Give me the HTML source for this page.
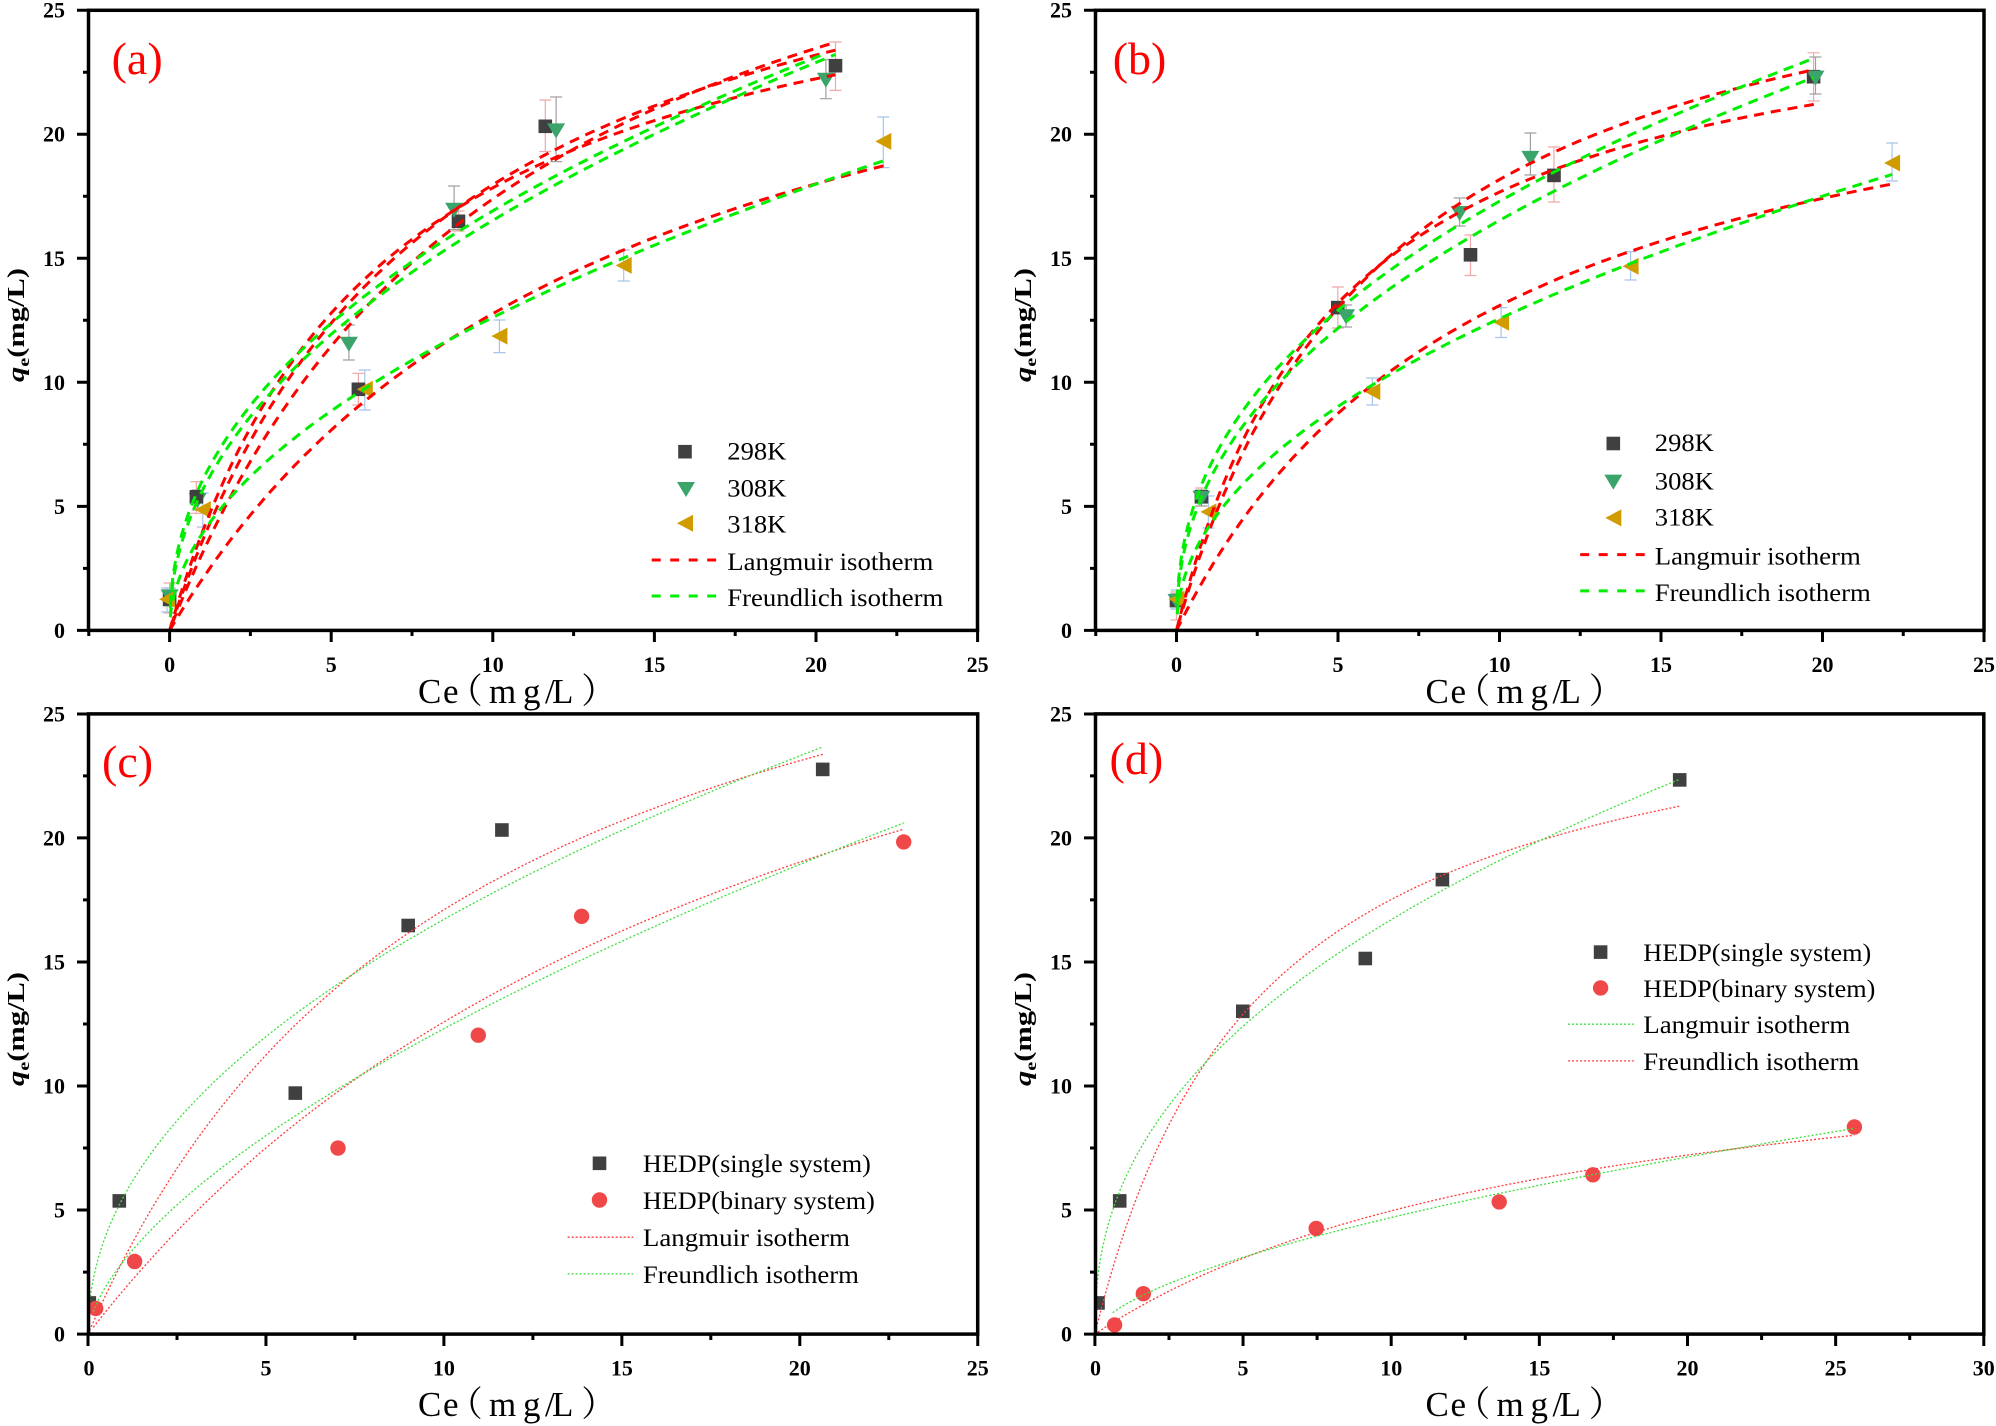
<!DOCTYPE html>
<html><head><meta charset="utf-8"><style>
html,body{margin:0;padding:0;background:#fff;}
svg{display:block;}
.tk{font-family:"Liberation Serif",serif;font-weight:bold;font-size:22px;fill:#000;}
.lg{font-family:"Liberation Serif",serif;font-size:25px;fill:#000;}
.pl{font-family:"Liberation Serif",serif;font-size:46px;fill:#ff0000;}
.xl{font-family:"Liberation Serif","Noto Serif CJK SC",serif;font-size:35px;fill:#000;}
.yl{font-family:"Liberation Serif",serif;font-weight:bold;font-size:24px;fill:#000;}
.rd{fill:none;stroke:#ff0000;stroke-width:3;stroke-dasharray:10 7;}
.gd{fill:none;stroke:#00ee00;stroke-width:3;stroke-dasharray:10 7;}
.ro{fill:none;stroke:#ff3b3b;stroke-width:1.3;stroke-dasharray:2 2;}
.go{fill:none;stroke:#3be03b;stroke-width:1.3;stroke-dasharray:2 2;}
.fr{fill:none;stroke:#000;stroke-width:3.5;}
.tc{fill:none;stroke:#000;stroke-width:3;}
.e1{fill:none;stroke:#f0a8a8;stroke-width:1.2;}
.e2{fill:none;stroke:#a0a0a0;stroke-width:1.2;}
.e3{fill:none;stroke:#a8c4ec;stroke-width:1.2;}
</style></head><body>
<svg width="1996" height="1426" viewBox="0 0 1996 1426">
<defs>
<clipPath id="ca"><rect x="88.5" y="10.3" width="889" height="620.1"/></clipPath>
<clipPath id="cb"><rect x="1095.5" y="10.3" width="888.5" height="620.1"/></clipPath>
<clipPath id="cc"><rect x="88.5" y="713.9" width="889.2" height="620.2"/></clipPath>
<clipPath id="cd"><rect x="1095.5" y="713.9" width="888.3" height="620.2"/></clipPath>
<path id="sq" d="M-6.8 -6.8h13.6v13.6h-13.6z" fill="#404040"/>
<path id="td" d="M-9 -7.5h18l-9 15z" fill="#3ba46b"/>
<path id="tl" d="M-8 0l16 -8.5v17z" fill="#d09c00"/>
<circle id="ci" r="7.7" fill="#f04848"/>
</defs>
<rect width="1996" height="1426" fill="#fff"/>

<!-- ===== Panel (a) ===== -->
<path class="e1" d="M169.6 583V613M163.6 583h12M163.6 613h12 M196.4 481.7V513.3M190.4 481.7h12M190.4 513.3h12 M358.4 373.3V405M352.4 373.3h12M352.4 405h12 M458.5 211V231M452.5 211h12M452.5 231h12 M545.3 100V151.5M539.3 100h12M539.3 151.5h12 M835.5 42V90.4M829.5 42h12M829.5 90.4h12"/>
<path class="e2" d="M169.6 588V606M163.6 588h12M163.6 606h12 M197.7 490V510M191.7 490h12M191.7 510h12 M348.9 325V360M342.9 325h12M342.9 360h12 M454.1 186V229.6M448.1 186h12M448.1 229.6h12 M556.1 97V161.6M550.1 97h12M550.1 161.6h12 M825.9 59.7V98.7M819.9 59.7h12M819.9 98.7h12"/>
<path class="e3" d="M167.1 588V612M161.1 588h12M161.1 612h12 M202.8 493V527M196.8 493h12M196.8 527h12 M364.8 370V410M358.8 370h12M358.8 410h12 M499.4 320V352.6M493.4 320h12M493.4 352.6h12 M623.7 250V281M617.7 250h12M617.7 281h12 M883.3 117V167.6M877.3 117h12M877.3 167.6h12"/>
<use href="#td" x="197.7" y="500.5"/>
<use href="#sq" x="169.6" y="599.2"/><use href="#sq" x="196.4" y="496.8"/><use href="#sq" x="358.4" y="389.3"/><use href="#sq" x="458.5" y="221.3"/><use href="#sq" x="545.3" y="126.3"/><use href="#sq" x="835.5" y="65.7"/>
<use href="#td" x="169.6" y="596.9"/><use href="#td" x="348.9" y="344.3"/><use href="#td" x="454.1" y="210.3"/><use href="#td" x="556.1" y="130.9"/><use href="#td" x="825.9" y="80.3"/>
<use href="#tl" x="167.1" y="599.2"/><use href="#tl" x="202.8" y="509.6"/><use href="#tl" x="364.8" y="389.3"/><use href="#tl" x="499.4" y="336.1"/><use href="#tl" x="623.7" y="265.4"/><use href="#tl" x="883.3" y="141.4"/>
<g clip-path="url(#ca)">
<path id="k0" class="rd"/><path id="k1" class="rd"/><path id="k2" class="rd"/><path id="k3" class="gd"/><path id="k4" class="gd"/><path id="k5" class="rd"/><path id="k6" class="gd"/>
</g>
<rect class="fr" x="88.5" y="10.3" width="889" height="620.1"/>
<path class="tc" d="M169.6 630v12M331.2 630v12M492.8 630v12M654.4 630v12M816 630v12M977.6 630v12M88.8 630v6M250.4 630v6M412 630v6M573.6 630v6M735.2 630v6M896.8 630v6M89 630.4h-12M89 506.35h-12M89 382.3h-12M89 258.25h-12M89 134.2h-12M89 10.3h-12M89 568.4h-6M89 444.3h-6M89 320.3h-6M89 196.2h-6M89 72.2h-6"/>
<g class="tk" text-anchor="end">
<text x="65" y="637.9">0</text><text x="65" y="513.9">5</text><text x="65" y="389.8">10</text><text x="65" y="265.8">15</text><text x="65" y="141.7">20</text><text x="65" y="17.7">25</text>
</g>
<g class="tk" text-anchor="middle">
<text x="169.6" y="672">0</text><text x="331.2" y="672">5</text><text x="492.8" y="672">10</text><text x="654.4" y="672">15</text><text x="816" y="672">20</text><text x="977.6" y="672">25</text>
</g>
<text class="yl" transform="translate(24,325) rotate(-90)" text-anchor="middle" textLength="114" lengthAdjust="spacingAndGlyphs"><tspan font-style="italic">q</tspan><tspan font-size="16" dy="5">e</tspan><tspan dy="-5">(mg/L)</tspan></text>
<g class="xl">
<text x="418" y="703">C</text><text x="443" y="703">e</text><text x="447.8" y="703">（</text><text x="489" y="703">m</text><text x="523" y="703">g</text><text x="545" y="703">/</text><text x="552" y="703">L</text><text x="581.2" y="703">）</text>
</g>
<text class="pl" x="111.6" y="74">(a)</text>
<use href="#sq" x="685" y="451.7"/><use href="#td" x="686" y="489.5"/><use href="#tl" x="685" y="523.3"/>
<path d="M651.7 560H718.3" fill="none" stroke="#ff0000" stroke-width="3" stroke-dasharray="9 9.5"/>
<path d="M651.7 596H718.3" fill="none" stroke="#00ee00" stroke-width="3" stroke-dasharray="9 9.5"/>
<g class="lg" lengthAdjust="spacingAndGlyphs">
<text x="727.3" y="459.3" textLength="59" lengthAdjust="spacingAndGlyphs">298K</text><text x="727.3" y="496.7" textLength="59" lengthAdjust="spacingAndGlyphs">308K</text><text x="727.3" y="532.7" textLength="59" lengthAdjust="spacingAndGlyphs">318K</text><text x="727.3" y="570" textLength="206" lengthAdjust="spacingAndGlyphs">Langmuir isotherm</text><text x="727.3" y="606" textLength="216" lengthAdjust="spacingAndGlyphs">Freundlich isotherm</text>
</g>

<!-- ===== Panel (b) ===== -->
<path class="e1" d="M1176.5 592V620M1170.5 592h12M1170.5 620h12 M1201.4 488V506M1195.4 488h12M1195.4 506h12 M1337.8 287V328M1331.8 287h12M1331.8 328h12 M1470.5 235V275.5M1464.5 235h12M1464.5 275.5h12 M1554 147V202M1548 147h12M1548 202h12 M1813.6 52.8V101M1807.6 52.8h12M1807.6 101h12"/>
<path class="e2" d="M1176.5 594V609M1170.5 594h12M1170.5 609h12 M1201.4 490V506M1195.4 490h12M1195.4 506h12 M1346.1 305V327M1340.1 305h12M1340.1 327h12 M1459.6 198V226M1453.6 198h12M1453.6 226h12 M1530.4 133V175M1524.4 133h12M1524.4 175h12 M1815.5 57V94M1809.5 57h12M1809.5 94h12"/>
<path class="e3" d="M1176.5 590V609M1170.5 590h12M1170.5 609h12 M1208.4 496V528M1202.4 496h12M1202.4 528h12 M1372.3 378V405M1366.3 378h12M1366.3 405h12 M1501.1 307.6V337.5M1495.1 307.6h12M1495.1 337.5h12 M1630.6 251.6V280M1624.6 251.6h12M1624.6 280h12 M1892.1 143V181M1886.1 143h12M1886.1 181h12"/>
<use href="#sq" x="1176.5" y="600.6"/><use href="#sq" x="1201.4" y="496.8"/><use href="#sq" x="1337.8" y="307.6"/><use href="#sq" x="1470.5" y="254.8"/><use href="#sq" x="1554" y="175.4"/><use href="#sq" x="1813.6" y="76.7"/>
<use href="#td" x="1176.5" y="601.5"/><use href="#td" x="1201.4" y="498.2"/><use href="#td" x="1346.1" y="316.8"/><use href="#td" x="1459.6" y="213.5"/><use href="#td" x="1530.4" y="158.4"/><use href="#td" x="1815.5" y="78.1"/>
<use href="#tl" x="1176.5" y="599.2"/><use href="#tl" x="1208.4" y="511.9"/><use href="#tl" x="1372.3" y="391.6"/><use href="#tl" x="1501.1" y="322.3"/><use href="#tl" x="1630.6" y="266.3"/><use href="#tl" x="1892.1" y="163"/>
<g clip-path="url(#cb)">
<path id="k7" class="rd"/><path id="k8" class="rd"/><path id="k9" class="gd"/><path id="k10" class="gd"/><path id="k11" class="rd"/><path id="k12" class="gd"/>
</g>
<rect class="fr" x="1095.5" y="10.3" width="888.5" height="620.1"/>
<path class="tc" d="M1176.5 630v12M1338 630v12M1499.5 630v12M1661 630v12M1822.5 630v12M1984 630v12M1095.75 630v6M1257.25 630v6M1418.75 630v6M1580.25 630v6M1741.75 630v6M1903.25 630v6M1096 630.4h-12M1096 506.35h-12M1096 382.3h-12M1096 258.25h-12M1096 134.2h-12M1096 10.3h-12M1096 568.4h-6M1096 444.3h-6M1096 320.3h-6M1096 196.2h-6M1096 72.2h-6"/>
<g class="tk" text-anchor="end">
<text x="1072" y="637.9">0</text><text x="1072" y="513.9">5</text><text x="1072" y="389.8">10</text><text x="1072" y="265.8">15</text><text x="1072" y="141.7">20</text><text x="1072" y="17.7">25</text>
</g>
<g class="tk" text-anchor="middle">
<text x="1176.5" y="672">0</text><text x="1338" y="672">5</text><text x="1499.5" y="672">10</text><text x="1661" y="672">15</text><text x="1822.5" y="672">20</text><text x="1984" y="672">25</text>
</g>
<text class="yl" transform="translate(1031,325) rotate(-90)" text-anchor="middle" textLength="114" lengthAdjust="spacingAndGlyphs"><tspan font-style="italic">q</tspan><tspan font-size="16" dy="5">e</tspan><tspan dy="-5">(mg/L)</tspan></text>
<g class="xl" transform="translate(1007.5,0)">
<text x="418" y="703">C</text><text x="443" y="703">e</text><text x="447.8" y="703">（</text><text x="489" y="703">m</text><text x="523" y="703">g</text><text x="545" y="703">/</text><text x="552" y="703">L</text><text x="581.2" y="703">）</text>
</g>
<text class="pl" x="1112.7" y="74">(b)</text>
<use href="#sq" x="1613.3" y="443.5"/><use href="#td" x="1613.3" y="482.1"/><use href="#tl" x="1613.3" y="517.9"/>
<path d="M1580.2 554.6H1646.5" fill="none" stroke="#ff0000" stroke-width="3" stroke-dasharray="9 9.5"/>
<path d="M1580.2 590.9H1646.5" fill="none" stroke="#00ee00" stroke-width="3" stroke-dasharray="9 9.5"/>
<g class="lg">
<text x="1654.8" y="451" textLength="59" lengthAdjust="spacingAndGlyphs">298K</text><text x="1654.8" y="489.5" textLength="59" lengthAdjust="spacingAndGlyphs">308K</text><text x="1654.8" y="525.5" textLength="59" lengthAdjust="spacingAndGlyphs">318K</text><text x="1654.8" y="564.6" textLength="206" lengthAdjust="spacingAndGlyphs">Langmuir isotherm</text><text x="1654.8" y="601" textLength="216" lengthAdjust="spacingAndGlyphs">Freundlich isotherm</text>
</g>

<!-- ===== Panel (c) ===== -->
<g clip-path="url(#cc)">
<use href="#sq" x="89.3" y="1302.9"/><use href="#sq" x="119.3" y="1200.9"/><use href="#sq" x="295.3" y="1093.1"/><use href="#sq" x="408.2" y="925.5"/><use href="#sq" x="501.9" y="830"/><use href="#sq" x="822.7" y="769.4"/>
<use href="#ci" x="95.7" y="1308.4"/><use href="#ci" x="134.6" y="1261.5"/><use href="#ci" x="338" y="1148.1"/><use href="#ci" x="478.3" y="1035.2"/><use href="#ci" x="581.6" y="916.3"/><use href="#ci" x="903.7" y="841.9"/>
<path id="k13" class="ro"/><path id="k14" class="go"/><path id="k15" class="ro"/><path id="k16" class="go"/>
</g>
<rect class="fr" x="88.5" y="713.9" width="889.2" height="620.2"/>
<path class="tc" d="M88 1334v12M265.95 1334v12M443.9 1334v12M621.85 1334v12M799.8 1334v12M977.75 1334v12M177 1334v6M354.9 1334v6M532.9 1334v6M710.8 1334v6M888.8 1334v6M89 1334.1h-12M89 1210.05h-12M89 1086h-12M89 961.95h-12M89 837.9h-12M89 714h-12M89 1272.1h-6M89 1148h-6M89 1024h-6M89 899.9h-6M89 775.9h-6"/>
<g class="tk" text-anchor="end">
<text x="65" y="1341.6">0</text><text x="65" y="1217.6">5</text><text x="65" y="1093.5">10</text><text x="65" y="969.5">15</text><text x="65" y="845.4">20</text><text x="65" y="721.4">25</text>
</g>
<g class="tk" text-anchor="middle">
<text x="89" y="1375.6">0</text><text x="265.95" y="1375.6">5</text><text x="443.9" y="1375.6">10</text><text x="621.85" y="1375.6">15</text><text x="799.8" y="1375.6">20</text><text x="977.75" y="1375.6">25</text>
</g>
<text class="yl" transform="translate(24,1029) rotate(-90)" text-anchor="middle" textLength="114" lengthAdjust="spacingAndGlyphs"><tspan font-style="italic">q</tspan><tspan font-size="16" dy="5">e</tspan><tspan dy="-5">(mg/L)</tspan></text>
<g class="xl" transform="translate(0,713)">
<text x="418" y="703">C</text><text x="443" y="703">e</text><text x="447.8" y="703">（</text><text x="489" y="703">m</text><text x="523" y="703">g</text><text x="545" y="703">/</text><text x="552" y="703">L</text><text x="581.2" y="703">）</text>
</g>
<text class="pl" x="102" y="777">(c)</text>
<use href="#sq" x="599.5" y="1163.3"/><use href="#ci" x="599.5" y="1200"/>
<path d="M567.6 1237.2H633.3" fill="none" stroke="#ff3b3b" stroke-width="1.3" stroke-dasharray="2 2"/>
<path d="M567.6 1273.9H633.3" fill="none" stroke="#3be03b" stroke-width="1.3" stroke-dasharray="2 2"/>
<g class="lg">
<text x="642.9" y="1172" textLength="228" lengthAdjust="spacingAndGlyphs">HEDP(single system)</text><text x="642.9" y="1209" textLength="232" lengthAdjust="spacingAndGlyphs">HEDP(binary system)</text><text x="642.9" y="1246" textLength="207" lengthAdjust="spacingAndGlyphs">Langmuir isotherm</text><text x="642.9" y="1283" textLength="216" lengthAdjust="spacingAndGlyphs">Freundlich isotherm</text>
</g>

<!-- ===== Panel (d) ===== -->
<g clip-path="url(#cd)">
<use href="#sq" x="1098" y="1302.9"/><use href="#sq" x="1119.7" y="1200.9"/><use href="#sq" x="1242.8" y="1011.3"/><use href="#sq" x="1365.3" y="958.5"/><use href="#sq" x="1442.4" y="879.6"/><use href="#sq" x="1679.7" y="779.9"/>
<use href="#ci" x="1114.6" y="1324.9"/><use href="#ci" x="1143.3" y="1293.7"/><use href="#ci" x="1316.2" y="1228.5"/><use href="#ci" x="1499.2" y="1201.9"/><use href="#ci" x="1592.9" y="1174.8"/><use href="#ci" x="1854.4" y="1127"/>
<path id="k17" class="ro"/><path id="k18" class="go"/><path id="k19" class="ro"/><path id="k20" class="go"/>
</g>
<rect class="fr" x="1095.5" y="713.9" width="888.3" height="620.2"/>
<path class="tc" d="M1094.9 1334v12M1243.05 1334v12M1391.2 1334v12M1539.35 1334v12M1687.5 1334v12M1835.65 1334v12M1983.8 1334v12M1168.98 1334v6M1317.1 1334v6M1465.3 1334v6M1613.4 1334v6M1761.6 1334v6M1909.7 1334v6M1096 1334.1h-12M1096 1210.05h-12M1096 1086h-12M1096 961.95h-12M1096 837.9h-12M1096 714h-12M1096 1272.1h-6M1096 1148h-6M1096 1024h-6M1096 899.9h-6M1096 775.9h-6"/>
<g class="tk" text-anchor="end">
<text x="1072" y="1341.6">0</text><text x="1072" y="1217.6">5</text><text x="1072" y="1093.5">10</text><text x="1072" y="969.5">15</text><text x="1072" y="845.4">20</text><text x="1072" y="721.4">25</text>
</g>
<g class="tk" text-anchor="middle">
<text x="1095.5" y="1375.6">0</text><text x="1243.05" y="1375.6">5</text><text x="1391.2" y="1375.6">10</text><text x="1539.35" y="1375.6">15</text><text x="1687.5" y="1375.6">20</text><text x="1835.65" y="1375.6">25</text><text x="1983.8" y="1375.6">30</text>
</g>
<text class="yl" transform="translate(1031,1029) rotate(-90)" text-anchor="middle" textLength="114" lengthAdjust="spacingAndGlyphs"><tspan font-style="italic">q</tspan><tspan font-size="16" dy="5">e</tspan><tspan dy="-5">(mg/L)</tspan></text>
<g class="xl" transform="translate(1007.5,713)">
<text x="418" y="703">C</text><text x="443" y="703">e</text><text x="447.8" y="703">（</text><text x="489" y="703">m</text><text x="523" y="703">g</text><text x="545" y="703">/</text><text x="552" y="703">L</text><text x="581.2" y="703">）</text>
</g>
<text class="pl" x="1109.5" y="774">(d)</text>
<use href="#sq" x="1600.6" y="952.1"/><use href="#ci" x="1600.6" y="987.9"/>
<path d="M1568.1 1024.2H1633.8" fill="none" stroke="#3be03b" stroke-width="1.3" stroke-dasharray="2 2"/>
<path d="M1568.1 1060.9H1633.8" fill="none" stroke="#ff3b3b" stroke-width="1.3" stroke-dasharray="2 2"/>
<g class="lg">
<text x="1643.3" y="961" textLength="228" lengthAdjust="spacingAndGlyphs">HEDP(single system)</text><text x="1643.3" y="997" textLength="232" lengthAdjust="spacingAndGlyphs">HEDP(binary system)</text><text x="1643.3" y="1033" textLength="207" lengthAdjust="spacingAndGlyphs">Langmuir isotherm</text><text x="1643.3" y="1070" textLength="216" lengthAdjust="spacingAndGlyphs">Freundlich isotherm</text>
</g>
</svg>
<script>
(function(){
var P={a:[169.6,32.32,630.4,24.81],b:[1176.5,32.3,630.4,24.81],c:[88,35.59,1334.1,24.81],d:[1094.9,29.63,1334.1,24.81]};
function L(m,k){return function(c){return m*k*c/(1+k*c);};}
function F(k,n){return function(c){return k*Math.pow(c,n);};}
var D=[
['a',L(29.5,0.153),0,20.6],
['a',L(32.7,0.1219),0.05,20.6],
['a',L(36.05,0.0932),0.1,20.6],
['a',F(6.0,0.45),0.02,20.3],
['a',F(5.6,0.47),0.02,20.6],
['a',L(30.5,0.072),0,22.1],
['a',F(3.88,0.512),0.02,22.1],
['b',L(26.69,0.1957),0,19.73],
['b',L(30.15,0.1517),0.05,19.73],
['b',F(6.53,0.423),0.02,19.73],
['b',F(6.0,0.44),0.02,19.73],
['b',L(26.0,0.1014),0,22.16],
['b',F(4.18,0.478),0.02,22.16],
['c',L(35.63,0.0923),0,20.65],
['c',F(5.54,0.4796),0.04,20.65],
['c',L(38.98,0.04766),0.15,22.92],
['c',F(2.946,0.621),0.15,22.92],
['d',L(27.3,0.179),0.05,19.73],
['d',F(6.22,0.429),0.06,19.73],
['d',L(13.19,0.0604),0.1,25.63],
['d',F(1.172,0.603),0.6,25.63]
];
for(var i=0;i<D.length;i++){
var d=D[i],p=P[d[0]],s='';
for(var j=0;j<=160;j++){
var t=j/160,c=d[2]+(d[3]-d[2])*t*t;
var x=p[0]+p[1]*c,y=p[2]-p[3]*d[1](c);
s+=(j?'L':'M')+x.toFixed(1)+' '+y.toFixed(1);
}
var el=document.getElementById('k'+i);
if(el)el.setAttribute('d',s);
}
})();
</script>
</body></html>
